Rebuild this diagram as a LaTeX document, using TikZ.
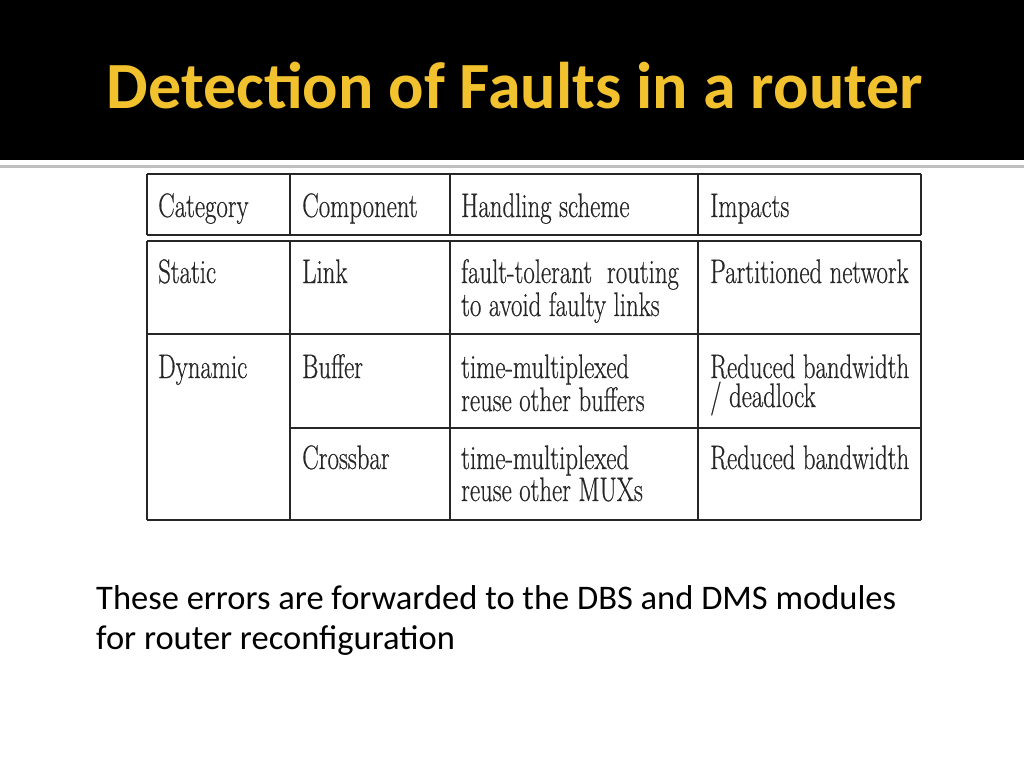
\documentclass[tikz,border=0pt]{standalone}
\usepackage{fontspec}
\setmainfont{Latin Modern Roman}
\newfontfamily\carfont{Carlito}
\newfontfamily\tabfont{Latin Modern Roman}[FakeBold=0.6]
\definecolor{ttl}{HTML}{F2C12E}
\newcommand{\sq}[1]{\scalebox{0.73}[1]{#1}}
\begin{document}
\begin{tikzpicture}[x=1pt,y=-1pt,
  cell/.style={anchor=base west,inner sep=0pt,font=\tabfont\fontsize{34}{34}\selectfont,text=black!85},
  tl/.style={line width=2.6pt,black!85}]
\useasboundingbox (0,0) rectangle (1024,768);
\fill[black] (0,0) rectangle (1024,160);
\draw[line width=3pt,black!25] (0,166) -- (1024,166);
\node[font=\carfont\bfseries\fontsize{66}{66}\selectfont,text=ttl,anchor=base] (title) at (515,108) {Detec\kern0pt tion of Faults in a router};
% table lines
\draw[tl] (147,174) -- (921,174);
\draw[tl] (147,235) -- (921,235);
\draw[tl] (147,241) -- (921,241);
\draw[tl] (147,334) -- (921,334);
\draw[tl] (290,428) -- (921,428);
\draw[tl] (147,520) -- (921,520);
\foreach \x in {147,290,450,698,921}{\draw[tl] (\x,174) -- (\x,235); \draw[tl] (\x,241) -- (\x,520);}
\node[cell] (h1) at (158,217) {\sq{Category}};
\node[cell] (h2) at (302,217) {\sq{Component}};
\node[cell] (h3) at (461,217) {\sq{Handling scheme}};
\node[cell] (h4) at (710,217) {\sq{Impacts}};
\node[cell] (a1) at (158,283) {\sq{Static}};
\node[cell] (a2) at (302,283) {\sq{Link}};
\node[cell] (a3) at (461,283) {\sq{fault-tolerant\hspace{0.3em} routing}};
\node[cell] (a3b) at (461,316) {\sq{to avoid faulty links}};
\node[cell] (a4) at (710,283) {\sq{Partitioned network}};
\node[cell] (b1) at (158,378) {\sq{Dynamic}};
\node[cell] (b2) at (302,378) {\sq{Buffer}};
\node[cell] (b3) at (461,378) {\sq{time-multiplexed}};
\node[cell] (b3b) at (461,411) {\sq{reuse other buffers}};
\node[cell] (b4) at (710,378) {\sq{Reduced bandwidth}};
\node[cell] (b4b) at (710,407) {\sq{/ deadlock}};
\node[cell] (c2) at (302,469) {\sq{Crossbar}};
\node[cell] (c3) at (461,469) {\sq{time-multiplexed}};
\node[cell] (c3b) at (461,501) {\sq{reuse other MUXs}};
\node[cell] (c4) at (710,469) {\sq{Reduced bandwidth}};
\node[anchor=base west,inner sep=0pt,font=\carfont\fontsize{34.5}{34.5}\selectfont] (t1) at (96,609) {These errors are forwarded to the DBS and DMS modules};
\node[anchor=base west,inner sep=0pt,font=\carfont\fontsize{34.5}{34.5}\selectfont] (t2) at (96,649) {for router reconfiguration};
\end{tikzpicture}
\end{document}
